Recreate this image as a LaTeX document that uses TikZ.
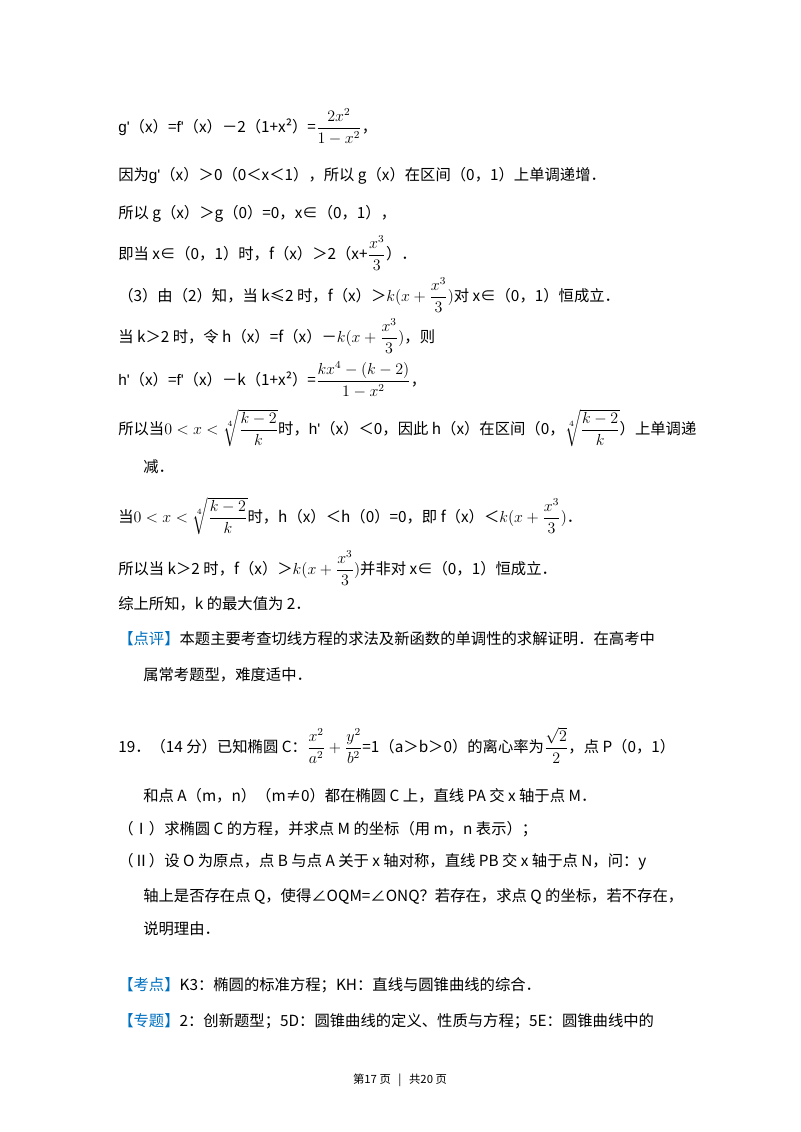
\documentclass[tikz,border=0pt]{standalone}
\usepackage{fontspec}
\setmainfont{Noto Sans CJK SC}
\newfontfamily\lat{Liberation Sans}
\usepackage{amsmath,amssymb}
\definecolor{blu}{RGB}{0,112,192}
\newcommand{\gp}{{\lat g\textquotesingle}}
\newcommand{\fp}{{\lat f\textquotesingle}}
\newcommand{\hp}{{\lat h\textquotesingle}}
\begin{document}
\begin{tikzpicture}[x=0.75pt,y=-0.75pt,
  t/.style={anchor=west,inner sep=0pt,font=\fontsize{11.5}{14}\selectfont},
  ft/.style={anchor=center,inner sep=0pt,font=\fontsize{8.5}{10}\selectfont}]
\useasboundingbox (0,0) rectangle (800,1132);
\node[t] (l1) at (118,127) {\gp（x）=\fp（x）－2（1+x²）=$\dfrac{2x^2}{1-x^2}$，};
\node[t] (l2) at (118,176) {因为\gp（x）＞0（0＜x＜1），所以 g（x）在区间（0，1）上单调递增．};
\node[t] (l3) at (118,214) {所以 g（x）＞g（0）=0，x∈（0，1），};
\node[t] (l4) at (118,253) {即当 x∈（0，1）时，f（x）＞2（x+$\dfrac{x^3}{3}$）．};
\node[t] (l5) at (118,295) {（3）由（2）知，当 k≤2 时，f（x）＞$k(x+\dfrac{x^3}{3})$对 x∈（0，1）恒成立．};
\node[t] (l6) at (118,336) {当 k＞2 时，令 h（x）=f（x）－$k(x+\dfrac{x^3}{3})$，则};
\node[t] (l7) at (118,380) {\hp（x）=\fp（x）－k（1+x²）=$\dfrac{kx^4-(k-2)}{1-x^2}$，};
\node[t] (l8) at (118,428) {所以当$0<x<\sqrt[4]{\dfrac{k-2}{k}}$时，\hp（x）＜0，因此 h（x）在区间（0，$\sqrt[4]{\dfrac{k-2}{k}}$）上单调递};
\node[t] (l9) at (143,467) {减．};
\node[t] (l10) at (118,516) {当$0<x<\sqrt[4]{\dfrac{k-2}{k}}$时，h（x）＜h（0）=0，即 f（x）＜$k(x+\dfrac{x^3}{3})$．};
\node[t] (l11) at (118,568) {所以当 k＞2 时，f（x）＞$k(x+\dfrac{x^3}{3})$并非对 x∈（0，1）恒成立．};
\node[t] (l12) at (118,604) {综上所知，k 的最大值为 2．};
\node[t] (l13) at (118,639) {\textcolor{blu}{【点评】}本题主要考查切线方程的求法及新函数的单调性的求解证明．在高考中};
\node[t] (l14) at (143,675) {属常考题型，难度适中．};
\node[t] (l15) at (118,745) {19．（14 分）已知椭圆 C：$\dfrac{x^2}{a^2}+\dfrac{y^2}{b^2}$=1（a＞b＞0）的离心率为$\dfrac{\sqrt2}{2}$，点 P（0，1）};
\node[t] (l16) at (143,796) {和点 A（m，n）（m≠0）都在椭圆 C 上，直线 PA 交 x 轴于点 M．};
\node[t] (l17) at (118,829) {（Ⅰ）求椭圆 C 的方程，并求点 M 的坐标（用 m，n 表示）；};
\node[t] (l18) at (118,862) {（Ⅱ）设 O 为原点，点 B 与点 A 关于 x 轴对称，直线 PB 交 x 轴于点 N，问：y};
\node[t] (l19) at (143,896) {轴上是否存在点 Q，使得∠OQM=∠ONQ？若存在，求点 Q 的坐标，若不存在，};
\node[t] (l20) at (143,929) {说明理由．};
\node[t] (l21) at (118,985) {\textcolor{blu}{【考点】}K3：椭圆的标准方程；KH：直线与圆锥曲线的综合．};
\node[t] (l22) at (118,1021) {\textcolor{blu}{【专题】}2：创新题型；5D：圆锥曲线的定义、性质与方程；5E：圆锥曲线中的};
\node[ft] (foot) at (400,1080) {第17 页 \ \ | \ \ 共20 页};
\end{tikzpicture}
\end{document}
